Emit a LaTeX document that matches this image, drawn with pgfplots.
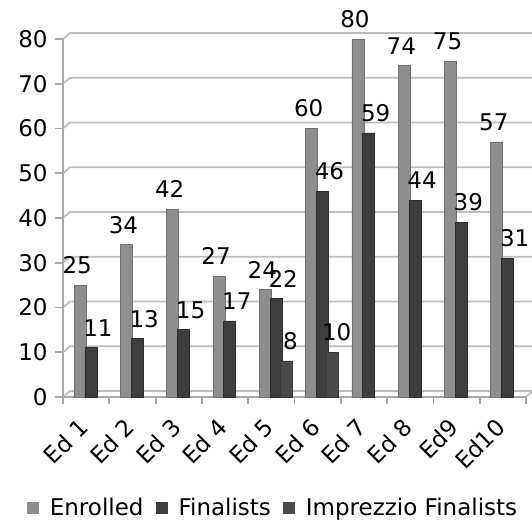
\documentclass[border=0pt]{standalone}
\usepackage{pgfplots}
\pgfplotsset{compat=1.18}
\usepackage{fontspec}
\setmainfont{DejaVu Sans}
\definecolor{enr}{HTML}{8E8E8E}
\definecolor{enrd}{HTML}{727272}
\definecolor{fin}{HTML}{3E3E3E}
\definecolor{find}{HTML}{2E2E2E}
\definecolor{imp}{HTML}{4A4A4A}
\definecolor{impd}{HTML}{383838}
\definecolor{gridc}{HTML}{BDBDBD}
\definecolor{axc}{HTML}{A8A8A8}
\begin{document}
\begin{tikzpicture}[font=\fontsize{11.5}{13.5}\selectfont]
\begin{axis}[
  at={(0,0)}, anchor=south west,
  set layers,
  scale only axis, width=231.5pt, height=179pt,
  xmin=-0.5, xmax=9.5, ymin=0, ymax=80,
  clip=false,
  axis x line*=bottom, axis y line*=left,
  axis line style={draw=axc, line width=0.9pt},
  tick style={draw=axc, line width=0.9pt},
  tick align=outside,
  major tick length=4pt,
  minor tick length=3.5pt,
  ytick={0,10,...,80},
  xtick={0,...,9},
  xticklabels={Ed 1,Ed 2,Ed 3,Ed 4,Ed 5,Ed 6,Ed 7,Ed 8,Ed9,Ed10},
  minor xtick={-0.5,0.5,...,9.5},
  major x tick style={draw=none},
  /pgf/number format/assume math mode=true,
  tick label style={font=\fontsize{11.5}{13.5}\selectfont},
  yticklabel style={inner sep=0pt, xshift=-3.5pt},
  xticklabel style={inner sep=0pt, yshift=-9pt, xshift=-1pt, rotate=45, anchor=east},
  ybar, bar width=6pt,
  nodes near coords,
  every node near coord/.append style={font=\fontsize{11.5}{13.5}\selectfont, anchor=south, inner sep=0pt, yshift=5.5pt, text=black},
  legend style={draw=none, fill=none, at={(0.4557,-0.310)}, anchor=center,
    legend columns=-1, inner sep=0pt,
    font=\fontsize{11.5}{13.5}\selectfont,
    /tikz/every odd column/.style={column sep=3.5pt},
    /tikz/every even column/.style={column sep=4pt}},
  legend image code/.code={\fill[#1,draw=none] (0pt,-3pt) rectangle (6pt,3pt);},
]
\begin{pgfonlayer}{axis background}
\pgfplotsinvokeforeach{0,10,...,80}{
  \draw[gridc, line width=0.9pt] (axis cs:-0.5,#1) -- ([shift={(3.5pt,3pt)}]axis cs:-0.5,#1) -- ([shift={(3.5pt,3pt)}]axis cs:9.5,#1);
}
\draw[gridc, line width=0.9pt] (axis cs:9.5,0) -- ([shift={(3.5pt,3pt)}]axis cs:9.5,0);
\end{pgfonlayer}
\addplot[fill=enr, draw=enrd, line width=0.4pt, bar shift=-3pt,
  every node near coord/.append style={xshift=-1.5pt}]
  coordinates {(0,25)(1,34)(2,42)(3,27)(4,24)(5,60)(6,80)(7,74)(8,75)(9,57)};
\addlegendentry{Enrolled}
\addplot[fill=fin, draw=find, line width=0.4pt, bar shift=2.4pt,
  every node near coord/.append style={xshift=3.5pt}]
  coordinates {(0,11)(1,13)(2,15)(3,17)(4,22)(5,46)(6,59)(7,44)(8,39)(9,31)};
\addlegendentry{Finalists}
\addplot[fill=imp, draw=impd, line width=0.4pt, bar shift=7.5pt,
  every node near coord/.append style={xshift=2pt}]
  coordinates {(4,8)(5,10)};
\addlegendentry{Imprezzio Finalists}
\end{axis}
\pgfresetboundingbox
\path[use as bounding box] (-31.5pt,-64pt) rectangle (234.5pt,198.5pt);
\end{tikzpicture}
\end{document}
